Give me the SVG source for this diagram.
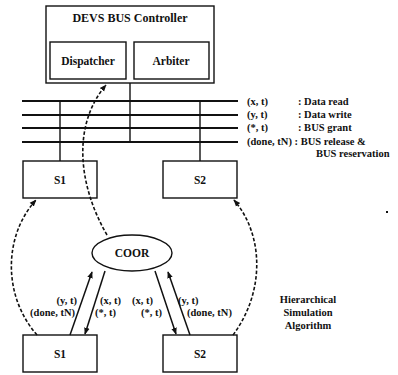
<svg xmlns="http://www.w3.org/2000/svg" width="398" height="375" viewBox="0 0 398 375">
<style>
text{font-family:"Liberation Serif","Times New Roman",serif;font-weight:bold;fill:#111}
.box{fill:#fff;stroke:#111;stroke-width:1.4}
.bus{stroke:#111;stroke-width:2.2}
.ln{stroke:#111;stroke-width:1.4;fill:none}
.dash{stroke:#111;stroke-width:1.6;fill:none;stroke-dasharray:3.5 2}
.sol{stroke:#111;stroke-width:1.5;fill:none}
.t10{font-size:10.5px}
.t11{font-size:11.5px}
</style>
<defs>
<marker id="ah" viewBox="0 0 10 10" refX="9" refY="5" markerWidth="7" markerHeight="7" orient="auto" markerUnits="userSpaceOnUse">
<path d="M0,1 L10,5 L0,9 Z" fill="#111"/>
</marker>
</defs>

<g id="controller">
<rect class="box" x="46" y="6" width="168" height="77"/>
<text x="130" y="22" font-size="12px" text-anchor="middle">DEVS BUS Controller</text>
</g>
<g id="dispatcher">
<rect class="box" x="50" y="42" width="76" height="37"/>
<text class="t11" x="88" y="65" text-anchor="middle">Dispatcher</text>
</g>
<g id="arbiter">
<rect class="box" x="134" y="42" width="75" height="37"/>
<text class="t11" x="171" y="65" text-anchor="middle">Arbiter</text>
</g>

<g id="bus">
<line class="bus" x1="22" y1="101" x2="238" y2="101"/>
<line class="bus" x1="22" y1="115" x2="238" y2="115"/>
<line class="bus" x1="22" y1="128" x2="238" y2="128"/>
<line class="bus" x1="22" y1="142" x2="238" y2="142"/>
<text class="t10" x="247" y="105">(x, t)</text>
<text class="t10" x="298" y="105">: Data read</text>
<text class="t10" x="247" y="118">(y, t)</text>
<text class="t10" x="298" y="118">: Data write</text>
<text class="t10" x="247" y="131">(*, t)</text>
<text class="t10" x="298" y="131">: BUS grant</text>
<text class="t10" x="247" y="145">(done, tN) : BUS release &amp;</text>
<text class="t10" x="316" y="157">BUS reservation</text>
</g>

<g id="s1-top">
<rect class="box" x="23" y="161" width="74" height="37"/>
<text class="t11" x="60" y="184" text-anchor="middle">S1</text>
</g>
<g id="s2-top">
<rect class="box" x="163" y="161" width="74" height="37"/>
<text class="t11" x="200" y="184" text-anchor="middle">S2</text>
</g>
<g id="coor">
<ellipse class="box" cx="132" cy="253" rx="40" ry="18"/>
<text class="t11" x="132" y="257" text-anchor="middle">COOR</text>
</g>
<g id="s1-bottom">
<rect class="box" x="23" y="335" width="74" height="37"/>
<text class="t11" x="60" y="358" text-anchor="middle">S1</text>
</g>
<g id="s2-bottom">
<rect class="box" x="163" y="335" width="74" height="37"/>
<text class="t11" x="200" y="358" text-anchor="middle">S2</text>
</g>

<g id="connectors">
<line class="ln" x1="60" y1="101" x2="60" y2="161"/>
<line class="ln" x1="130" y1="83" x2="130" y2="142"/>
<line class="ln" x1="200" y1="101" x2="200" y2="161"/>
<path class="dash" d="M107,235 C78,185 72,125 106,85" marker-end="url(#ah)"/>
<path class="dash" d="M37,335 C2,295 4,235 36,200" marker-end="url(#ah)"/>
<path class="dash" d="M233,335 C265,292 264,235 234,200" marker-end="url(#ah)"/>
<line class="sol" x1="70" y1="335" x2="92" y2="272" marker-end="url(#ah)"/>
<line class="sol" x1="105" y1="271" x2="85" y2="334" marker-end="url(#ah)"/>
<line class="sol" x1="155" y1="271" x2="176" y2="334" marker-end="url(#ah)"/>
<line class="sol" x1="190" y1="335" x2="168" y2="272" marker-end="url(#ah)"/>
<text class="t10" x="77" y="304" text-anchor="end">(y, t)</text>
<text class="t10" x="75" y="316" text-anchor="end">(done, tN)</text>
<text class="t10" x="100" y="304">(x, t)</text>
<text class="t10" x="95" y="316">(*, t)</text>
<text class="t10" x="132" y="304">(x, t)</text>
<text class="t10" x="141" y="316">(*, t)</text>
<text class="t10" x="178" y="304">(y, t)</text>
<text class="t10" x="187" y="316">(done, tN)</text>
</g>

<g id="caption">
<text class="t10" x="308" y="303" text-anchor="middle">Hierarchical</text>
<text class="t10" x="308" y="316" text-anchor="middle">Simulation</text>
<text class="t10" x="308" y="329" text-anchor="middle">Algorithm</text>
</g>
<rect x="386" y="211" width="2" height="2" fill="#111"/>
</svg>
